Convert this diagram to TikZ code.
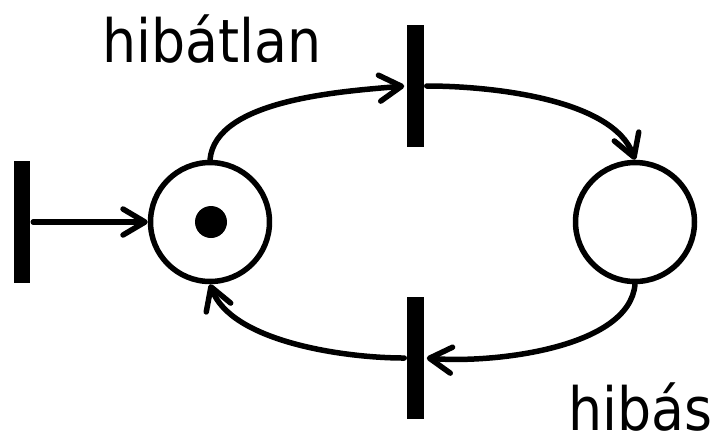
\documentclass[tikz,border=0pt]{standalone}
\usepackage{fontspec}
\setmainfont{DejaVu Sans Condensed}
\usetikzlibrary{arrows.meta}

\begin{document}
\begin{tikzpicture}[x=0.02cm, y=-0.02cm, line width=0.11cm,
  every node/.style={font=\fontsize{34}{36}\selectfont},
  place/.style={draw, circle, minimum size=2.38cm, inner sep=0pt},
  trans/.style={fill, rectangle, minimum width=0.34cm, minimum height=2.44cm, inner sep=0pt},
  token/.style={fill, circle, minimum size=0.64cm, inner sep=0pt},
  arc/.style={-{Straight Barb[length=0.44cm, width=0.52cm, line cap=round, line join=round]}, line cap=round}]
\useasboundingbox (0,0) rectangle (715,444);
% places and transitions
\node[trans] (t0) at (22,222) {};
\node[place] (p1) at (210,222) {};
\node[token] (k1) at (211,222) {};
\node[place] (p2) at (635,222) {};
\node[trans] (t1) at (415.5,86) {};
\node[trans] (t2) at (415.5,358) {};
% labels
\node[anchor=base west, inner sep=0pt] (l1) at (100,62) {hibátlan};
\node[anchor=base west, inner sep=0pt] (l2) at (566,430) {hibás};
% arcs
\draw[arc] (t0.east) -- (p1.west);
\draw[arc] (p1.north) to[out=85, in=185, looseness=0.75] (t1.west);
\draw[arc] (t1.east) to[out=0, in=110, looseness=0.75] (p2.north);
\draw[arc] (p2.south) to[out=-95, in=-5, looseness=0.75] (t2.east);
\draw[arc] (t2.west) to[out=180, in=-70, looseness=0.75] (p1.south);
\end{tikzpicture}
\end{document}
